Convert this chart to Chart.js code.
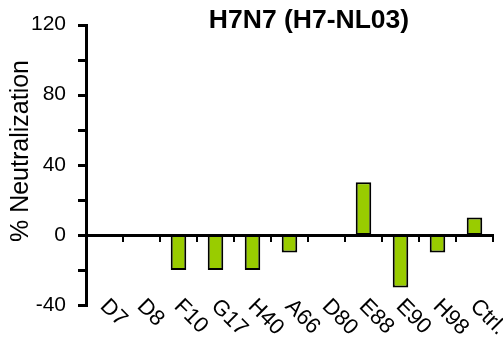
<!DOCTYPE html>
<html>
<head>
<meta charset="utf-8">
<script src="https://cdn.jsdelivr.net/npm/chart.js@4/dist/chart.umd.min.js"></script>
<style>
  html, body { margin: 0; padding: 0; background: #fff; }
  #wrap { width: 503px; height: 339px; position: relative; }
</style>
</head>
<body>
<div id="wrap"><canvas id="c" width="503" height="339"></canvas></div>
<script>
const chartTitle = 'H7N7 (H7-NL03)';
const yAxisTitle = '% Neutralization';
const categories = ['D7', 'D8', 'F10', 'G17', 'H40', 'A66', 'D80', 'E88', 'E90', 'H98', 'Ctrl.'];
const neutralization = [0, 0, -20, -20, -20, -10, 0, 30, -30, -10, 10];
const yMin = -40, yMax = 120, yStep = 20, yLabelStep = 40;
const yTickValues = [-40, -20, 0, 20, 40, 60, 80, 100, 120];

const FONT = "'Liberation Sans', Arial, Helvetica, sans-serif";

const decorPlugin = {
  id: 'decor',
  afterDraw(chart) {
    const ctx = chart.ctx;
    const xs = chart.scales.x, ys = chart.scales.y;
    const area = chart.chartArea;
    const y0 = Math.round(ys.getPixelForValue(0));
    const ax = Math.round(area.left);
    ctx.save();
    ctx.fillStyle = '#000';
    const yTop = Math.round(ys.getPixelForValue(yMax));
    const yBot = Math.round(ys.getPixelForValue(yMin));
    // y tick marks (pointing left)
    yTickValues.forEach(v => {
      const y = Math.round(ys.getPixelForValue(v));
      ctx.fillRect(ax - 8, y - 1, 8, 3);
    });
    // y axis line
    ctx.fillRect(ax - 1, yTop - 1, 3, yBot - yTop + 3);
    // zero axis line
    ctx.fillRect(ax - 1, y0 - 1, Math.round(area.right) - ax + 2, 3);
    // tick marks between categories (pointing down)
    const n = categories.length;
    for (let i = 1; i <= n; i++) {
      let x;
      if (i < n) x = (xs.getPixelForValue(i - 1) + xs.getPixelForValue(i)) / 2;
      else x = area.right;
      x = Math.round(x);
      ctx.fillRect(x - 1, y0 - 1, 2, 8);
    }
    // rotated category labels
    ctx.font = '22px ' + FONT;
    ctx.textAlign = 'left';
    ctx.textBaseline = 'middle';
    categories.forEach((c, i) => {
      const cx = xs.getPixelForValue(i);
      ctx.save();
      ctx.translate(cx - 1, ys.bottom - 2);
      ctx.rotate(Math.PI / 4);
      ctx.fillText(c, 0, 0);
      ctx.restore();
    });
    // title
    ctx.font = 'bold 26.5px ' + FONT;
    ctx.textAlign = 'center';
    ctx.textBaseline = 'middle';
    ctx.fillText(chartTitle, 309, 21);
    // y axis title
    ctx.font = '25px ' + FONT;
    ctx.save();
    ctx.translate(21, 151);
    ctx.rotate(-Math.PI / 2);
    ctx.fillText(yAxisTitle, 0, 0);
    ctx.restore();
    ctx.restore();
  }
};

new Chart(document.getElementById('c'), {
  type: 'bar',
  data: {
    labels: categories,
    datasets: [{
      data: neutralization,
      backgroundColor: '#99cc00',
      borderColor: '#000',
      borderWidth: 2,
      borderSkipped: false,
      barPercentage: 0.42,
      categoryPercentage: 1.0
    }]
  },
  options: {
    responsive: false,
    animation: false,
    devicePixelRatio: 1,
    layout: { padding: { left: 0, right: 10, top: 23, bottom: 34 } },
    plugins: { legend: { display: false }, title: { display: false }, tooltip: { enabled: false } },
    scales: {
      x: { display: false, offset: true },
      y: {
        min: yMin, max: yMax,
        afterFit(scale) { scale.width = 86; },
        border: { display: false },
        grid: { display: false },
        ticks: {
          stepSize: yStep,
          autoSkip: false,
          padding: 12,
          color: '#000',
          font: { family: FONT, size: 21 },
          callback: v => (v % yLabelStep === 0 ? String(v) : '')
        }
      }
    }
  },
  plugins: [decorPlugin]
});
</script>
</body>
</html>
